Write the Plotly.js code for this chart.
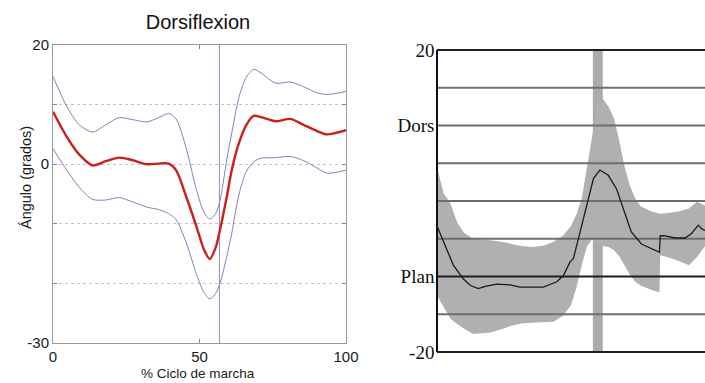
<!DOCTYPE html>
<html>
<head>
<meta charset="utf-8">
<script src="https://cdn.plot.ly/plotly-3.0.1.min.js"></script>
<style>html,body{margin:0;padding:0;background:#fff;}#chart{width:705px;height:383px;}</style>
</head>
<body>
<div id="chart"></div>
<script>
// ---- Left panel: Dorsiflexion (mean ± band) ----
const leftX = [0, 4.7, 9, 13.5, 18, 22.5, 27, 32, 36, 39.5, 42, 45.5, 49, 51.5, 53.5, 55.5, 57, 59.3, 61, 63.5, 66, 68.5, 71, 76, 81, 85.5, 90, 93.5, 100];
const leftMean = [8.8, 4.6, 1.6, -0.2, 0.5, 1.1, 0.7, 0.0, 0.1, 0.1, -1.0, -5.5, -10.5, -14.3, -15.9, -14.0, -11.0, -5.5, -1.0, 3.6, 6.6, 8.1, 7.9, 7.2, 7.6, 6.6, 5.6, 5.0, 5.7];
const leftUpper = [14.7, 9.7, 6.6, 5.4, 6.6, 7.8, 7.5, 7.1, 7.8, 8.5, 7.6, 2.6, -4.4, -8.0, -9.2, -8.3, -6.1, 0.7, 5.2, 11.3, 14.6, 15.9, 15.3, 13.6, 13.8, 13.0, 12.0, 11.7, 12.2];
const leftLower = [2.6, -1.0, -3.9, -5.9, -6.0, -5.6, -6.3, -7.2, -7.6, -8.3, -9.3, -13.2, -18.5, -21.5, -22.6, -21.7, -20.0, -15.5, -11.6, -5.0, -1.2, 0.4, 1.0, 1.1, 1.3, 0.6, -0.6, -1.5, -1.0];
const leftToeOff = 56.8;
const leftYTicks = [-30, -20, -10, 0, 10, 20];
const leftYTickText = ['-30', '', '', '0', '', '20'];
const leftXTicks = [0, 50, 100];

// ---- Right panel: reference band with Dors / Plan ----
const bandX = [0, 2.5, 5, 7.5, 10, 13.5, 16, 20, 24, 28, 32, 36, 40, 43.5, 47, 50, 52, 54, 56, 58, 60, 62, 64, 66, 68, 70, 72, 74, 76, 80, 83, 83.3, 86, 90, 94, 97, 100];
const bandUpper = [4.5, 1.0, -0.3, -2.8, -4.2, -5.0, -5.1, -5.2, -5.4, -5.7, -6.0, -6.1, -5.9, -5.4, -4.6, -3.3, -1.8, 0.3, 4.5, 9.0, 13.0, 13.5, 12.5, 11.0, 8.0, 4.5, 2.0, 0.3, -0.7, -1.4, -1.7, -1.7, -1.6, -1.4, -1.0, -0.1, -0.6];
const bandLower = [-12.5, -14.0, -15.6, -16.3, -16.9, -17.6, -17.5, -17.4, -17.0, -16.5, -16.2, -16.1, -16.1, -16.0, -15.2, -13.8, -11.5, -8.5, -6.0, -5.0, -5.5, -6.0, -6.1, -6.5, -7.3, -8.6, -9.8, -10.7, -11.2, -11.8, -12.1, -7.2, -7.4, -7.9, -8.5, -7.4, -6.0];
const curveX = [0, 2.4, 4.2, 6.1, 9.8, 12.5, 15.4, 18, 22.3, 27.2, 31, 35, 39.7, 44.7, 47.1, 49.6, 50.9, 53.4, 56.5, 58.4, 60.8, 63.9, 67, 69.5, 72.5, 76.3, 80.1, 83, 83.3, 84.7, 88.8, 92.5, 95, 97.5, 98.8, 100];
const curveY = [-3.3, -5.4, -7.0, -8.5, -10.3, -11.2, -11.6, -11.3, -11.0, -11.1, -11.4, -11.4, -11.4, -10.7, -9.9, -8.1, -7.6, -4.1, 0.3, 3.0, 4.1, 3.4, 1.6, -1.0, -4.1, -5.7, -6.3, -6.8, -4.6, -4.6, -4.9, -4.9, -4.3, -3.2, -3.7, -3.9];
const toeOffBarX = [60];
const toeOffBarWidth = [3.7];
const rightYTicks = [-20, -10, 10, 20];
const rightYTickText = ['-20', 'Plan', 'Dors', '20'];
const darkLevels = [20, -10, -20];
const grayLevels = [15, 10, 5, 0, -5, -15];
const rightXSpan = [0, 100];
const rightYSpan = [-20, 20];

function levelLines(levels) {
  const x = [], y = [];
  levels.forEach(v => { x.push(rightXSpan[0], rightXSpan[1], null); y.push(v, v, null); });
  return {x, y};
}

const sans = 'Liberation Sans, Arial, sans-serif';
const serif = 'Liberation Serif, Times New Roman, serif';
const blueGray = 'rgb(128,132,182)';

const dark = levelLines(darkLevels);
const gray = levelLines(grayLevels);

// right panel pixel geometry: 0..100 -> 437..705 px, 20..-20 -> 50..352 px (padded so edge lines are not clipped)
const pxPerX = (705 - 437) / 100, pxPerY = (352 - 50) / 40, padX = 0.6, padY = 0.5;

const traces = [
  // left panel
  {x: [leftToeOff, leftToeOff], y: [-30, 20], xaxis: 'x', yaxis: 'y', mode: 'lines', line: {color: 'rgb(140,145,185)', width: 1}, hoverinfo: 'skip'},
  {x: leftX, y: leftUpper, xaxis: 'x', yaxis: 'y', mode: 'lines', line: {color: blueGray, width: 1, shape: 'spline', smoothing: 0.8}},
  {x: leftX, y: leftLower, xaxis: 'x', yaxis: 'y', mode: 'lines', line: {color: blueGray, width: 1, shape: 'spline', smoothing: 0.8}},
  {x: leftX, y: leftMean, xaxis: 'x', yaxis: 'y', mode: 'lines', line: {color: 'rgb(205,30,30)', width: 2.4, shape: 'spline', smoothing: 0.8}},
  // right panel
  {type: 'bar', x: toeOffBarX, y: [rightYSpan[1] - rightYSpan[0]], base: [rightYSpan[0]], width: toeOffBarWidth, xaxis: 'x2', yaxis: 'y2', marker: {color: '#ababab', line: {width: 0}}},
  {x: bandX, y: bandUpper, xaxis: 'x2', yaxis: 'y2', mode: 'lines', line: {width: 0}, hoverinfo: 'skip'},
  {x: bandX, y: bandLower, xaxis: 'x2', yaxis: 'y2', mode: 'lines', line: {width: 0}, fill: 'tonexty', fillcolor: '#b0b0b0', hoverinfo: 'skip'},
  {x: gray.x, y: gray.y, xaxis: 'x2', yaxis: 'y2', mode: 'lines', line: {color: '#6e6e6e', width: 2}, connectgaps: false},
  {x: dark.x, y: dark.y, xaxis: 'x2', yaxis: 'y2', mode: 'lines', line: {color: '#1e1e1e', width: 2}, connectgaps: false},
  {x: [rightXSpan[0], rightXSpan[0]], y: rightYSpan, xaxis: 'x2', yaxis: 'y2', mode: 'lines', line: {color: '#111', width: 2}},
  {x: curveX, y: curveY, xaxis: 'x2', yaxis: 'y2', mode: 'lines', line: {color: '#1a1a1a', width: 1.3}}
];

const layout = {
  width: 705, height: 383,
  margin: {l: 0, r: 0, t: 0, b: 0},
  paper_bgcolor: '#ffffff', plot_bgcolor: '#ffffff',
  showlegend: false,
  title: {text: 'Dorsiflexion', x: 198 / 705, y: 1 - 22 / 383, xref: 'paper', yref: 'paper', xanchor: 'center', yanchor: 'middle', font: {family: sans, size: 20, color: '#111'}},
  xaxis: {
    domain: [53 / 705, 346 / 705], range: [0, 100], anchor: 'y',
    tickvals: leftXTicks, ticks: 'inside', ticklen: 4, tickcolor: '#888',
    showline: true, linecolor: '#9a9a9a', linewidth: 1, mirror: 'ticks',
    showgrid: false, zeroline: false,
    tickfont: {family: sans, size: 15, color: '#1a1a1a'}
  },
  yaxis: {
    domain: [1 - 343 / 383, 1 - 45 / 383], range: [-30, 20], anchor: 'x',
    tickvals: leftYTicks, ticktext: leftYTickText, ticks: 'inside', ticklen: 4, tickcolor: '#888',
    showline: true, linecolor: '#9a9a9a', linewidth: 1, mirror: 'ticks',
    showgrid: true, gridcolor: '#c4c4c4', griddash: 'dot', gridwidth: 1, zeroline: false,
    tickfont: {family: sans, size: 15, color: '#1a1a1a'}
  },
  xaxis2: {
    domain: [(437 - padX * pxPerX) / 705, 1], range: [rightXSpan[0] - padX, rightXSpan[1]], anchor: 'y2',
    visible: false, showgrid: false, zeroline: false
  },
  yaxis2: {
    domain: [1 - (352 + padY * pxPerY) / 383, 1 - (50 - padY * pxPerY) / 383], range: [rightYSpan[0] - padY, rightYSpan[1] + padY], anchor: 'x2',
    tickvals: rightYTicks, ticktext: rightYTickText, ticks: '',
    showline: false, showgrid: false, zeroline: false,
    tickfont: {family: serif, size: 19, color: '#111'}
  },
  annotations: [
    {text: 'Ángulo (grados)', xref: 'paper', yref: 'paper', x: 26 / 705, y: 1 - 178 / 383, xanchor: 'center', yanchor: 'middle', textangle: -90, showarrow: false, font: {family: sans, size: 14.5, color: '#1a1a1a'}},
    {text: '% Ciclo de marcha', xref: 'paper', yref: 'paper', x: 198 / 705, y: 1 - 373 / 383, xanchor: 'center', yanchor: 'middle', showarrow: false, font: {family: sans, size: 13.5, color: '#1a1a1a'}}
  ]
};

Plotly.newPlot('chart', traces, layout, {staticPlot: true, displayModeBar: false});
</script>
</body>
</html>
